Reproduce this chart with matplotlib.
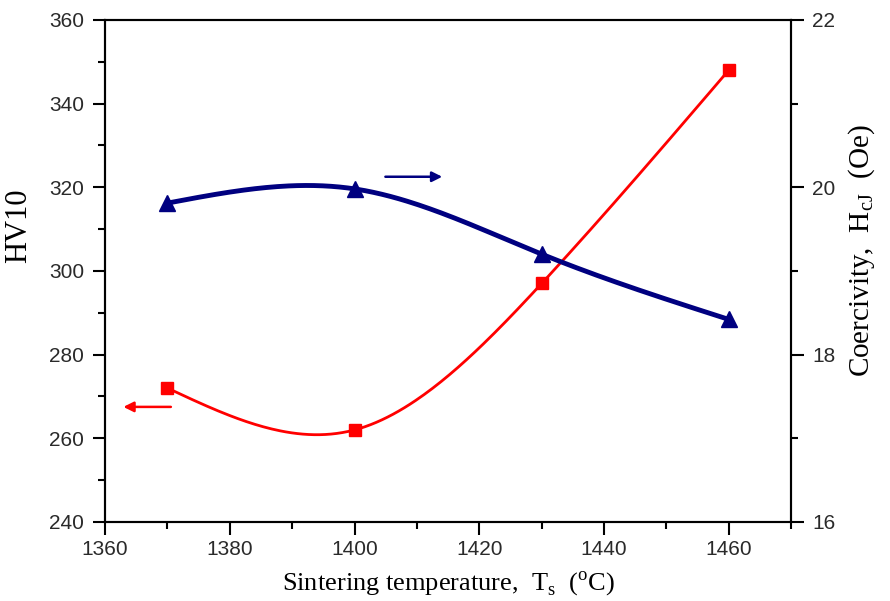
import numpy as np
import matplotlib
matplotlib.use("Agg")
import matplotlib.pyplot as plt
from matplotlib.ticker import MultipleLocator

temps = [1370, 1400, 1430, 1460]
hv10 = [272, 262, 297, 348]
coercivity = [19.81, 19.98, 19.2, 18.42]


def natural_spline(x, y, n=200):
    x = np.asarray(x, float); y = np.asarray(y, float)
    k = len(x); h = np.diff(x)
    A = np.zeros((k, k)); b = np.zeros(k)
    A[0, 0] = A[-1, -1] = 1
    for i in range(1, k - 1):
        A[i, i - 1] = h[i - 1]; A[i, i] = 2 * (h[i - 1] + h[i]); A[i, i + 1] = h[i]
        b[i] = 6 * ((y[i + 1] - y[i]) / h[i] - (y[i] - y[i - 1]) / h[i - 1])
    M = np.linalg.solve(A, b)
    xs = np.linspace(x[0], x[-1], n)
    idx = np.clip(np.searchsorted(x, xs) - 1, 0, k - 2)
    x0, x1 = x[idx], x[idx + 1]; hh = x1 - x0
    ys = (M[idx] * (x1 - xs) ** 3 / (6 * hh) + M[idx + 1] * (xs - x0) ** 3 / (6 * hh)
          + (y[idx] / hh - M[idx] * hh / 6) * (x1 - xs)
          + (y[idx + 1] / hh - M[idx + 1] * hh / 6) * (xs - x0))
    return xs, ys

fig = plt.figure(figsize=(8.9, 6.01), dpi=100)
ax = fig.add_axes([0.118, 0.1315, 0.771, 0.8355])
ax2 = ax.twinx()

red = '#FF0000'
blue = '#000080'

xs, ys = natural_spline(temps, hv10)
ax.plot(xs, ys, color=red, lw=2)
ax.plot(temps, hv10, 's', color=red, ms=9, ls='none')

xs2, ys2 = natural_spline(temps, coercivity)
ax2.plot(xs2, ys2, color=blue, lw=3.5)
ax2.plot(temps, coercivity, '^', color=blue, ms=11, ls='none')

ax.set_xlim(1360, 1470)
ax.set_ylim(240, 360)
ax2.set_ylim(16, 22)

ax.xaxis.set_major_locator(MultipleLocator(20))
ax.xaxis.set_minor_locator(MultipleLocator(10))
ax.yaxis.set_major_locator(MultipleLocator(20))
ax.yaxis.set_minor_locator(MultipleLocator(10))
ax2.yaxis.set_major_locator(MultipleLocator(2))
ax2.yaxis.set_minor_locator(MultipleLocator(1))

for a in (ax, ax2):
    a.tick_params(which='major', direction='out', length=9, width=1.5, labelsize=15, labelcolor='#2a2a2a', pad=6)
    a.tick_params(which='minor', direction='out', length=5, width=1.5)
    for lab in a.get_xticklabels() + a.get_yticklabels():
        lab.set_family('Liberation Sans')
    for s in a.spines.values():
        s.set_linewidth(1.5)
ax.tick_params(axis='x', pad=4)

ax.set_ylabel('HV10', fontfamily='Liberation Serif', fontsize=22)
ax.yaxis.set_label_coords(-0.105, 0.59)
ax.set_xlabel(r'Sintering temperature,  T$_\mathregular{s}$  ($^\mathregular{o}$C)',
              fontfamily='Liberation Serif', fontsize=19, labelpad=7)
ax2.set_ylabel(r'Coercivity,  H$_\mathregular{cJ}$  (Oe)', fontfamily='Liberation Serif', fontsize=21)
ax2.yaxis.set_label_coords(1.08, 0.54)

ax.annotate('', xy=(1414.5, 322.5), xytext=(1404.5, 322.5),
            arrowprops=dict(arrowstyle='-|>', color=blue, lw=1.8, mutation_scale=15))
ax.annotate('', xy=(1362.5, 267.5), xytext=(1371, 267.5),
            arrowprops=dict(arrowstyle='-|>', color=red, lw=1.8, mutation_scale=15))

fig.savefig('out.png', dpi=100)
